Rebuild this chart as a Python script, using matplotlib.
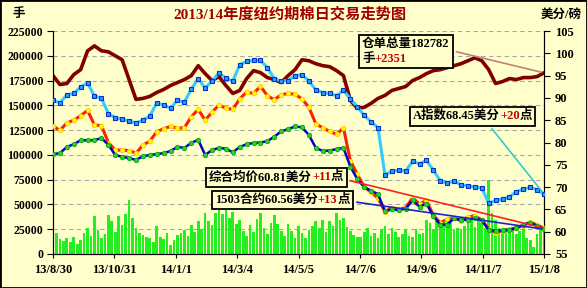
import matplotlib
matplotlib.use('Agg')
import matplotlib.pyplot as plt
from matplotlib.offsetbox import TextArea, HPacker, VPacker, AnnotationBbox
from matplotlib.patches import Rectangle
import pandas as pd

plt.rcParams['font.family'] = ['Liberation Serif', 'Noto Sans CJK SC', 'DejaVu Sans']
plt.rcParams['font.weight'] = 'bold'

# weekly line data
line_dates = pd.date_range('2013-08-30', '2015-01-08', periods=72)

# warehouse stocks (lots), left axis
stocks = [180, 171, 172, 181, 186, 205, 210, 205, 204, 200, 196, 176, 156, 157, 159, 163,
          166, 170, 173, 176, 180, 190, 182, 175, 179, 170, 162, 165, 177, 185, 183, 178,
          176, 173, 180, 186, 196, 195, 192, 190, 189, 185, 180, 155, 147, 148, 152, 157,
          160, 165, 167, 169, 175, 178, 182, 185, 186, 188, 190, 192, 195, 198, 195, 186,
          172, 174, 177, 176, 178, 178, 179, 182.782]
stocks = [v * 1000 for v in stocks]

# A index, cents/lb
a_index = [89.5, 88.9, 90.7, 91.0, 92.5, 93.3, 90.4, 90.0, 86.5, 85.6, 85.2, 84.8, 84.4, 85.0,
           85.9, 88.9, 88.4, 87.7, 89.5, 89.0, 92.0, 94.3, 92.2, 93.8, 95.6, 94.4, 93.8, 97.4,
           98.2, 98.4, 98.4, 96.8, 94.3, 93.8, 93.9, 95.0, 95.2, 93.8, 91.8, 91.2, 91.0, 90.5,
           91.7, 89.8, 88.0, 86.1, 84.6, 83.3, 72.7, 73.6, 73.8, 73.6, 75.8, 75.2, 76.0, 73.8,
           71.4, 70.9, 71.4, 70.5, 70.3, 70.0, 69.8, 66.4, 67.0, 67.3, 67.8, 69.0, 69.5, 70.0,
           69.4, 68.45]

# composite average price
composite = [83.7, 82.7, 84.4, 85.0, 86.0, 87.2, 83.9, 83.8, 80.0, 78.3, 78.3, 78.2, 77.6, 79.4,
             80.3, 82.4, 83.1, 83.6, 83.2, 83.3, 85.8, 87.4, 85.0, 86.8, 88.4, 87.7, 87.4, 89.8,
             91.3, 91.0, 92.6, 90.5, 89.6, 90.7, 91.0, 90.8, 89.8, 87.9, 84.2, 83.3, 82.5, 81.8,
             83.3, 75.9, 72.9, 70.0, 68.9, 67.5, 64.5, 65.4, 65.0, 65.4, 67.6, 66.2, 67.0, 63.7,
             62.0, 62.8, 63.0, 62.5, 63.3, 63.6, 62.6, 60.6, 59.8, 60.2, 60.5, 60.9, 61.3, 62.2,
             61.5, 60.81]

# 1503 contract
c1503 = [77.4, 77.6, 79.0, 79.6, 80.5, 80.5, 80.5, 81.0, 79.5, 77.2, 76.8, 76.5, 76.1, 76.9,
         77.2, 77.4, 77.6, 78.1, 79.0, 78.8, 79.9, 80.6, 77.2, 78.3, 78.8, 78.6, 77.8, 79.0,
         79.6, 79.9, 80.0, 80.3, 81.3, 82.5, 83.0, 83.6, 83.4, 81.7, 78.8, 78.1, 78.2, 78.5,
         78.8, 74.6, 71.8, 70.0, 69.2, 68.4, 64.6, 65.0, 64.8, 65.2, 67.0, 65.6, 66.3, 63.5,
         61.6, 61.6, 63.0, 62.6, 62.7, 63.0, 62.6, 60.4, 60.2, 60.3, 60.4, 60.8, 61.6, 62.0,
         61.3, 60.56]

# volume bars
bar_dates = pd.date_range('2013-08-30', '2015-01-08', periods=143)
volume = [18, 21, 15, 13, 16, 12, 17, 10, 14, 21, 26, 18, 38, 24, 16, 20, 39, 33, 22, 38,
          29, 40, 54, 36, 26, 21, 19, 17, 16, 12, 28, 17, 15, 21, 9, 14, 19, 21, 24, 18,
          29, 22, 33, 25, 41, 33, 29, 41, 46, 40, 44, 36, 42, 30, 34, 23, 18, 29, 22, 35,
          41, 26, 20, 31, 39, 30, 23, 18, 30, 23, 16, 28, 21, 16, 24, 28, 33, 26, 34, 22,
          33, 28, 41, 34, 36, 27, 23, 19, 17, 17, 22, 26, 18, 21, 16, 25, 28, 20, 26, 22,
          17, 20, 24, 18, 17, 25, 20, 21, 34, 31, 25, 33, 28, 34, 36, 31, 24, 26, 24, 28,
          33, 34, 27, 34, 31, 26, 75, 41, 34, 26, 22, 26, 23, 25, 20, 23, 28, 16, 14, 7,
          20, 28, 25]
volume = [v * 1000 for v in volume]

tick_dates = pd.to_datetime(['2013-08-30', '2013-10-31', '2014-01-01', '2014-03-04', '2014-05-05',
                             '2014-07-06', '2014-09-06', '2014-11-07', '2015-01-08'])
tick_labels = ['13/8/30', '13/10/31', '14/1/1', '14/3/4', '14/5/5', '14/7/6', '14/9/6',
               '14/11/7', '15/1/8']

bg = '#FFFFCC'
fig = plt.figure(figsize=(5.87, 2.88), dpi=100, facecolor=bg)
ax = fig.add_axes([53 / 587, 34 / 288, 491 / 587, 223 / 288])
ax.set_facecolor(bg)

ax.bar(bar_dates, volume, width=2.7, color='#22EE22', zorder=2)
ax.plot(line_dates, stocks, color='#800000', lw=2.6, zorder=3)
ax.set_ylim(0, 225000)
ax.set_yticks(range(0, 225001, 25000))
ax.yaxis.grid(True, ls=(0, (4, 3)), color='#A8A8A8', lw=0.8, zorder=1)
ax.set_axisbelow(True)
ax.set_xlim(tick_dates[0], tick_dates[-1])
ax.set_xticks(tick_dates)
ax.set_xticklabels(tick_labels, fontsize=9, fontweight='bold')
ax.tick_params(axis='y', labelsize=8.5, length=4, pad=3)
ax.tick_params(axis='x', length=3, pad=4)
for lab in ax.get_yticklabels():
    lab.set_fontweight('bold')
ax.spines['top'].set_visible(False)

ax2 = ax.twinx()
ax2.plot(line_dates, a_index, color='#33CCFF', lw=2.2, marker='s', ms=3,
         mfc='#3399FF', mec='#0033CC', mew=0.8, zorder=4)
ax2.plot(line_dates, composite, color='#FF2000', lw=2.2, marker='o', ms=3.2,
         mfc='#FFFF00', mec='#FFCC00', mew=0.6, zorder=4)
ax2.plot(line_dates, c1503, color='#0000CC', lw=1.8, marker='o', ms=3.2,
         mfc='#33CC33', mec='#00AA00', mew=0.6, zorder=5)
ax2.set_ylim(55, 105)
ax2.set_yticks(range(55, 106, 5))
ax2.tick_params(axis='y', labelsize=9, length=4, pad=4)
for lab in ax2.get_yticklabels():
    lab.set_fontweight('bold')
ax2.spines['top'].set_visible(False)

fp = dict(fontsize=9, fontweight='bold', color='black')
rp = dict(fontsize=9, fontweight='bold', color='#C00000')
boxp = dict(boxstyle='square,pad=0.25', fc=bg, ec='black', lw=1.3)


def callout(parts, xy, xybox, axes, color, relpos):
    children = []
    for row in parts:
        areas = [TextArea(t, textprops=(rp if red else fp)) for t, red in row]
        children.append(HPacker(children=areas, pad=0, sep=0, align='baseline'))
    box = VPacker(children=children, pad=0, sep=2, align='left')
    ab = AnnotationBbox(box, xy, xybox=xybox, xycoords='data', boxcoords='axes fraction',
                        box_alignment=(0, 1), bboxprops=boxp, frameon=True,
                        arrowprops=dict(arrowstyle='-', color=color, lw=1.2, relpos=relpos))
    ab.set_zorder(6)
    axes.add_artist(ab)


callout([[('仓单总量182782', False)], [('手', False), ('+2351', True)]],
        (line_dates[-1], stocks[-1]), ((362 - 53) / 491, (254 - 38) / 223), ax,
        '#C08080', (1, 0.55))
callout([[('A指数68.45美分', False), ('+20', True), ('点', False)]],
        (line_dates[-1], a_index[-1]), ((413 - 53) / 491, (254 - 110) / 223), ax2,
        '#33CCCC', (0.62, 0))
callout([[('综合均价60.81美分', False), ('+11', True), ('点', False)]],
        (line_dates[-1], composite[-1]), ((209 - 53) / 491, (254 - 171) / 223), ax2,
        '#FF2020', (1, 0.35))
callout([[('1503合约60.56美分', False), ('+13', True), ('点', False)]],
        (line_dates[-1], c1503[-1]), ((215 - 53) / 491, (254 - 194) / 223), ax2,
        '#2020CC', (1, 0.4))

fig.text(0.494, 0.95, '2013/14年度纽约期棉日交易走势图', ha='center', va='center',
         fontsize=11, fontweight='bold', color='#A00000')
fig.text(12 / 587, 0.95, '手', ha='left', va='center', fontsize=9, fontweight='bold')
fig.text(582 / 587, 0.95, '美分/磅', ha='right', va='center', fontsize=9, fontweight='bold')

fig.patches.append(Rectangle((0, 0), 1, 1, transform=fig.transFigure, fill=False,
                             ec='black', lw=2))

fig.savefig('out.png', dpi=100, facecolor=bg)
